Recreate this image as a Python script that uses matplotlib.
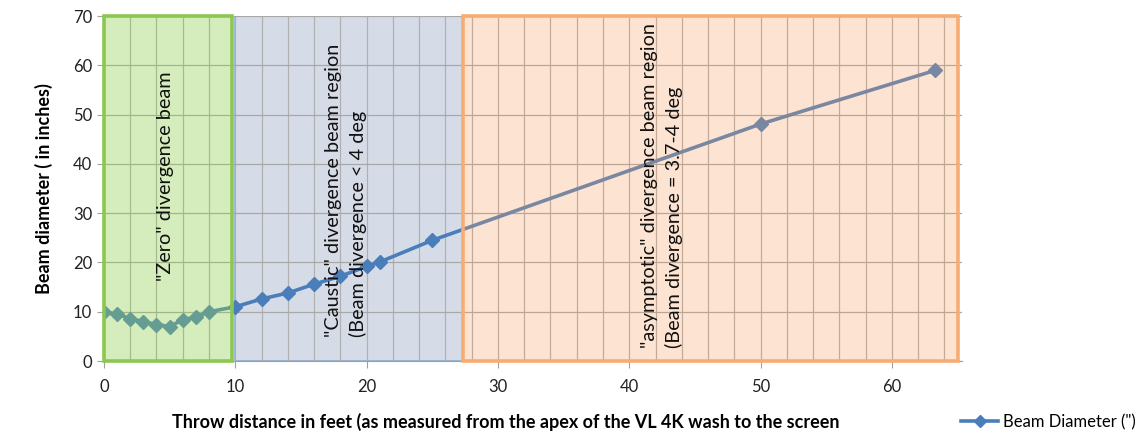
import matplotlib.pyplot as plt
from matplotlib.patches import Rectangle
from matplotlib.lines import Line2D
import numpy as np

plt.rcParams['font.family'] = ['Lato', 'DejaVu Sans']

# Measured beam diameter vs throw distance
distance_ft = [0, 1, 2, 3, 4, 5, 6, 7, 8, 10, 12, 14, 16, 18, 20, 21, 25, 50, 63.3]
diameter_in = [10.0, 9.5, 8.6, 8.0, 7.4, 7.0, 8.4, 8.9, 10.0, 11.0, 12.6, 13.8,
               15.6, 17.2, 19.2, 20.1, 24.5, 48.1, 59.0]

# Divergence regions (x start, x end)
zero_region = (0, 9.75)
caustic_region = (10, 27.3)
asymptotic_region = (27.3, 65)

fig = plt.figure(figsize=(11.45, 4.36), dpi=100)
ax = fig.add_axes([0.0908, 0.172, 0.749, 0.791])

ax.plot(distance_ft, diameter_in, color='#4a7ebb', lw=2.6, marker='D',
        markersize=7.5, markeredgecolor='#4a7ebb', zorder=3)

ax.set_xlim(0, 65.3)
ax.set_ylim(0, 70)
ax.set_xticks(np.arange(0, 61, 10))
ax.set_xticks(np.arange(0, 65, 2), minor=True)
ax.set_yticks(np.arange(0, 71, 10))
ax.set_axisbelow('line')
ax.grid(True, which='both', axis='x', color='#b0b0b0', lw=0.9)
ax.grid(True, which='major', axis='y', color='#a8a8a8', lw=0.9)

for s in ['top', 'right']:
    ax.spines[s].set_visible(False)
for s in ['left', 'bottom']:
    ax.spines[s].set_color('#a0a0a0')
ax.tick_params(axis='both', which='major', colors='#a0a0a0', labelcolor='#222222',
               labelsize=12, length=5)
ax.tick_params(axis='x', which='minor', length=0)
ax.tick_params(axis='x', pad=8)

# caustic region sits under the grid and line
ax.add_patch(Rectangle((caustic_region[0], 0), caustic_region[1] - caustic_region[0], 70,
                       facecolor='#d6dce7', edgecolor='#8fb0dc', lw=1.2, zorder=0.8))
# zero and asymptotic regions are translucent overlays on top of the line
ax.add_patch(Rectangle((zero_region[0], 0), zero_region[1] - zero_region[0], 70,
                       facecolor='#92d050', alpha=0.38, edgecolor='none', zorder=4))
ax.add_patch(Rectangle((zero_region[0], 0), zero_region[1] - zero_region[0], 70,
                       facecolor='none', edgecolor='#8cc850', lw=2.6, zorder=4,
                       clip_on=False))
ax.add_patch(Rectangle((asymptotic_region[0], 0), asymptotic_region[1] - asymptotic_region[0], 70,
                       facecolor='#f9a060', alpha=0.28, edgecolor='none', zorder=4))
ax.add_patch(Rectangle((asymptotic_region[0], 0), asymptotic_region[1] - asymptotic_region[0], 70,
                       facecolor='none', edgecolor='#f8ac72', lw=2.6, zorder=4,
                       clip_on=False))

txt = dict(rotation=90, fontsize=14.3, color='#111111', zorder=5, linespacing=1.45)
ax.text(4.7, 37.5, '"Zero" divergence beam', ha='center', va='center', **txt)
ax.text(18.4, 4.9, '"Caustic" divergence beam region\n(Beam divergence < 4 deg',
        ha='center', va='bottom', multialignment='left', **txt)
ax.text(42.5, 2.6, '"asymptotic" divergence beam region\n(Beam divergence = 3.7-4 deg',
        ha='center', va='bottom', multialignment='left', **txt)

ax.set_ylabel('Beam diameter ( in inches)', fontsize=13, fontweight='bold', labelpad=14)
fig.text(0.442, 0.032, 'Throw distance in feet (as measured from the apex of the VL 4K wash to the screen',
         ha='center', va='center', fontsize=13, fontweight='bold')

handle = Line2D([], [], color='#4a7ebb', lw=2.6, marker='D', markersize=6)
fig.legend([handle], ['Beam Diameter (")'], loc='center right',
           bbox_to_anchor=(1.005, 0.032), frameon=False, fontsize=12,
           handlelength=2.2, handletextpad=0.3)

fig.savefig('out.png', dpi=100)
